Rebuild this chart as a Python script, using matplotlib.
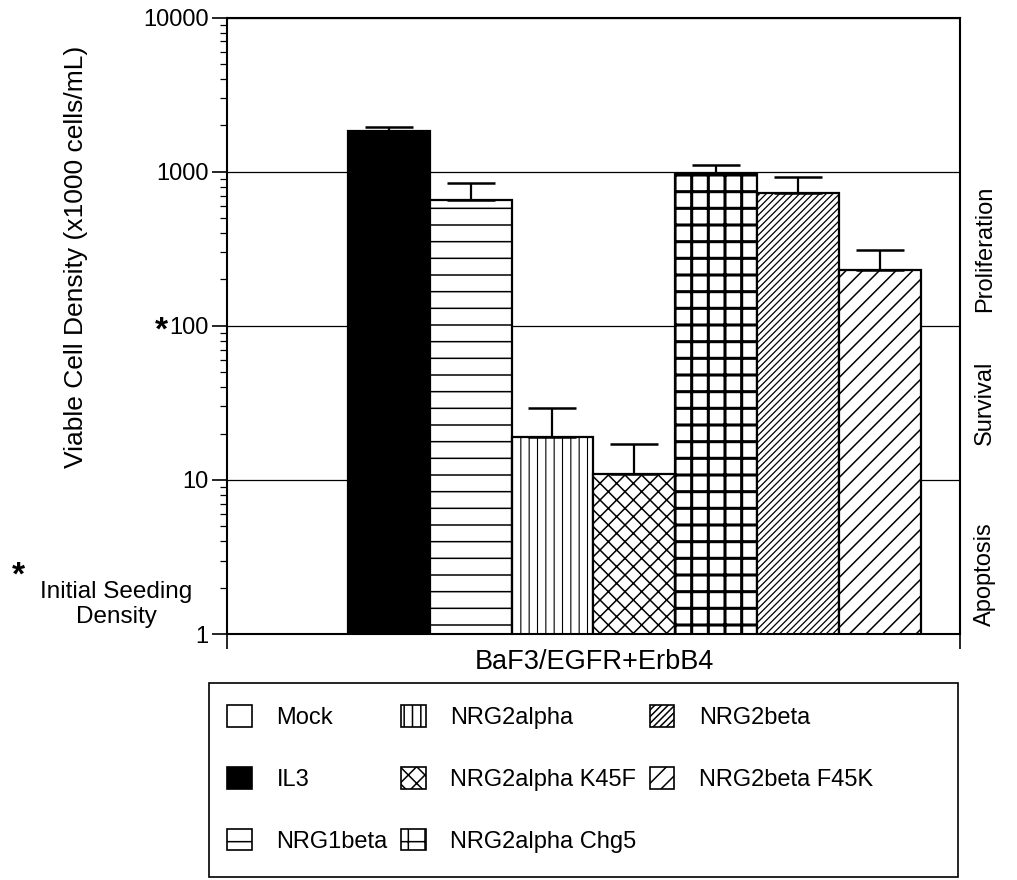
import matplotlib
matplotlib.use("Agg")
import matplotlib.pyplot as plt
import numpy as np
from matplotlib.patches import Patch, Rectangle
from matplotlib.ticker import NullFormatter
from matplotlib.transforms import blended_transform_factory

plt.rcParams["font.family"] = ["Liberation Sans", "DejaVu Sans"]
plt.rcParams["hatch.linewidth"] = 1.1

# --- data ---
treatments = ["Mock", "IL3", "NRG1beta", "NRG2alpha", "NRG2alpha K45F",
              "NRG2alpha Chg5", "NRG2beta", "NRG2beta F45K"]
density = [0.8, 1850, 660, 19, 11, 960, 730, 230]          # x1000 cells/mL
density_upper = [0.8, 1940, 850, 29.5, 17, 1100, 920, 310]  # top of error bar
ytick_values = [1, 10, 100, 1000, 10000]
ytick_labels = ["1", "10", "100", "1000", "10000"]
zone_labels = ["Proliferation", "Survival", "Apoptosis"]
zone_centers = [316, 31.6, 2.45]

# --- style per bar ---
fills = ["white", "black", "white", "white", "white", "white", "white", "white"]
hatches = ["", "", "-", "||", "xx", "+", "/////", "//"]
hatch_lw = [1.0, 1.0, 1.1, 0.8, 1.1, 2.2, 0.9, 1.1]

fig = plt.figure(figsize=(10.17, 8.8), dpi=100)
ax = fig.add_axes([0.223, 0.2795, 0.721, 0.7005])

x = np.arange(len(treatments))
bars = ax.bar(x, density, width=1.0, color=fills, edgecolor="black",
              linewidth=1.6, zorder=2)
for b, h, hl in zip(bars, hatches, hatch_lw):
    b.set_hatch(h)
    if hasattr(b, "set_hatch_linewidth"):
        b.set_hatch_linewidth(hl)

yerr_up = np.array(density_upper) - np.array(density)
ax.errorbar(x, density, yerr=[np.zeros(len(x)), yerr_up], fmt="none",
            ecolor="black", elinewidth=1.6, capsize=17, capthick=1.8, zorder=3)

ax.set_yscale("log")
ax.set_ylim(1, 10000)
ax.set_xlim(-0.976, 7.976)
ax.set_yticks(ytick_values, ytick_labels)
ax.yaxis.set_minor_formatter(NullFormatter())
ax.tick_params(axis="y", which="major", direction="out", length=11, width=1.2,
               labelsize=17, pad=2)
ax.tick_params(axis="y", which="minor", direction="out", length=5, width=0.9)
ax.set_xticks(ax.get_xlim(), ["", ""])
ax.tick_params(axis="x", direction="out", length=11, width=1.2)
ax.yaxis.grid(True, which="major", color="black", lw=0.9)
ax.set_axisbelow(True)
for s in ax.spines.values():
    s.set_linewidth(1.5)

fig.text(0.584, 0.248, "BaF3/EGFR+ErbB4", ha="center", va="center",
         fontsize=19.5)
fig.text(0.075, 0.708, "Viable Cell Density (x1000 cells/mL)", rotation=90,
         ha="center", va="center", fontsize=19)

# asterisk marking the seeding density at 100
trans = blended_transform_factory(fig.transFigure, ax.transData)
ax.text(0.159, 92, "*", transform=trans, ha="center", va="center",
        fontsize=24, fontweight="bold", clip_on=False)
fig.text(0.018, 0.345, "*", ha="center", va="center", fontsize=24,
         fontweight="bold")
fig.text(0.114, 0.313, "Initial Seeding\nDensity", ha="center", va="center",
         fontsize=17.5, linespacing=1.2)

for lab, yc in zip(zone_labels, zone_centers):
    ax.text(0.9685, yc, lab, transform=trans, rotation=90, ha="center",
            va="center", fontsize=17, clip_on=False)

# legend: entries packed from the left, box drawn wider than the entries
handles = []
for f, h, hl in zip(fills, hatches, hatch_lw):
    p = Patch(facecolor=f, edgecolor="black", hatch=h, linewidth=1.2)
    if hasattr(p, "set_hatch_linewidth"):
        p.set_hatch_linewidth(hl)
    handles.append(p)
fig.legend(handles, treatments, ncol=3, loc="upper left",
           bbox_to_anchor=(227 / 1017, 1 - 705 / 880), fontsize=17,
           frameon=False, handlelength=1.05, handleheight=1.05,
           handletextpad=1.05, columnspacing=0.55, labelspacing=1.6,
           borderpad=0, borderaxespad=0)
fig.patches.append(Rectangle((209 / 1017, 1 - 877 / 880), 749 / 1017,
                             194 / 880, transform=fig.transFigure,
                             facecolor="none", edgecolor="black", lw=1.2))

fig.savefig("out.png", dpi=100)
